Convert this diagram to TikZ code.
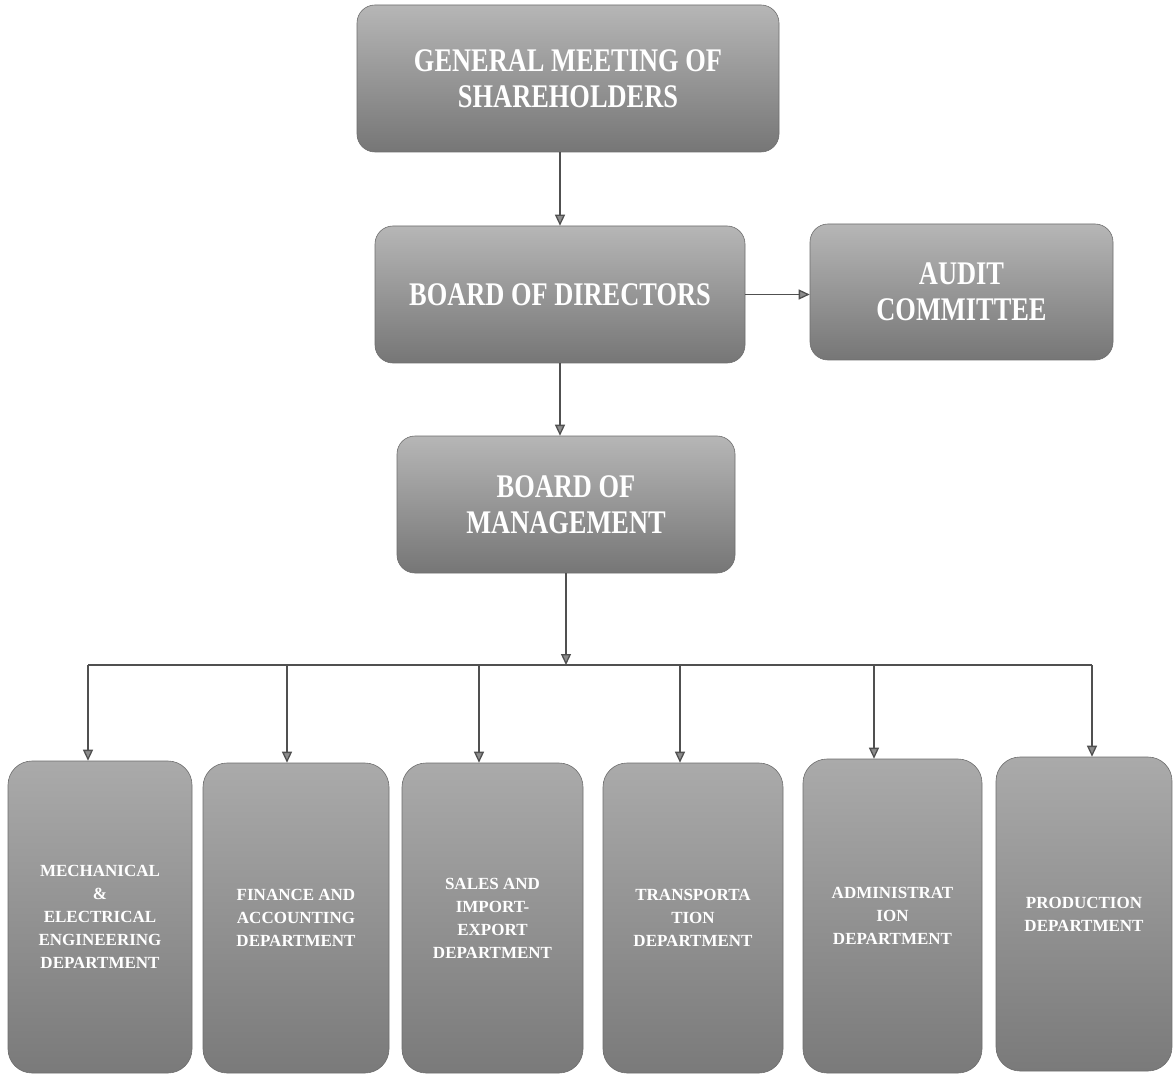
\documentclass[tikz,border=0pt]{standalone}
\usepackage{fontspec}
\setmainfont{Liberation Serif}
\newfontfamily\boxfont{Liberation Serif}[FakeStretch=0.8]
\usetikzlibrary{arrows.meta}
\definecolor{boxtop}{RGB}{182,182,182}
\definecolor{boxbot}{RGB}{118,118,118}
\definecolor{depttop}{RGB}{170,170,170}
\definecolor{deptbot}{RGB}{122,122,122}
\definecolor{edgecol}{RGB}{110,110,110}
\definecolor{linecol}{RGB}{80,80,80}
\definecolor{tipcol}{RGB}{140,140,140}
\tikzset{
  topbox/.style={rounded corners=18pt, top color=boxtop, bottom color=boxbot,
    draw=edgecol, line width=0.6pt, text=white, align=center, inner sep=0pt,
    font={\boxfont\bfseries\fontsize{33}{36}\selectfont}},
  deptbox/.style={rounded corners=24pt, top color=depttop, bottom color=deptbot,
    draw=edgecol, line width=0.6pt, text=white, align=center, inner sep=0pt,
    font={\bfseries\fontsize{17}{23}\selectfont}},
  arr/.style={draw=linecol, line width=1.3pt,
    -{Triangle[width=10pt,length=11pt,fill=tipcol]}},
  busline/.style={draw=linecol, line width=1.3pt}
}
\begin{document}
\begin{tikzpicture}[x=1pt,y=-1pt]
\fill[white] (0,0) rectangle (1173,1075);
\useasboundingbox (0,0) rectangle (1173,1075);

\node[topbox, minimum width=422pt, minimum height=147pt] (gm) at (568,78.5) {GENERAL MEETING OF\\SHAREHOLDERS};
\node[topbox, minimum width=370pt, minimum height=137pt] (bod) at (560,294.5) {BOARD OF DIRECTORS};
\node[topbox, minimum width=303pt, minimum height=136pt] (audit) at (961.5,292) {AUDIT\\COMMITTEE};
\node[topbox, minimum width=338pt, minimum height=137pt] (bom) at (566,504.5) {BOARD OF\\MANAGEMENT};

\node[deptbox, minimum width=184pt, minimum height=312pt] (d1) at (100,917) {MECHANICAL\\\&\\ELECTRICAL\\ENGINEERING\\DEPARTMENT};
\node[deptbox, minimum width=186pt, minimum height=310pt] (d2) at (296,918) {FINANCE AND\\ACCOUNTING\\DEPARTMENT};
\node[deptbox, minimum width=181pt, minimum height=310pt] (d3) at (492.5,918) {SALES AND\\IMPORT-\\EXPORT\\DEPARTMENT};
\node[deptbox, minimum width=180pt, minimum height=310pt] (d4) at (693,918) {TRANSPORTA\\TION\\DEPARTMENT};
\node[deptbox, minimum width=179pt, minimum height=314pt] (d5) at (892.5,916) {ADMINISTRAT\\ION\\DEPARTMENT};
\node[deptbox, minimum width=176pt, minimum height=314pt] (d6) at (1084,914) {PRODUCTION\\DEPARTMENT};

\draw[arr] (bod.north |- gm.south) -- (bod.north);
\draw[arr] (bod.east) -- (audit.west |- bod.east);
\draw[arr] (bod.south) -- (bod.south |- bom.north);

\coordinate (bm) at (566,665);
\coordinate (b1) at (88,665);
\coordinate (b2) at (287,665);
\coordinate (b3) at (479,665);
\coordinate (b4) at (680,665);
\coordinate (b5) at (874,665);
\coordinate (b6) at (1092,665);
\draw[busline] (b1) -- (b6);
\draw[arr] (bom.south) -- (bm);
\draw[arr] (b1) -- (b1 |- d1.north);
\draw[arr] (b2) -- (b2 |- d2.north);
\draw[arr] (b3) -- (b3 |- d3.north);
\draw[arr] (b4) -- (b4 |- d4.north);
\draw[arr] (b5) -- (b5 |- d5.north);
\draw[arr] (b6) -- (b6 |- d6.north);
\end{tikzpicture}
\end{document}
